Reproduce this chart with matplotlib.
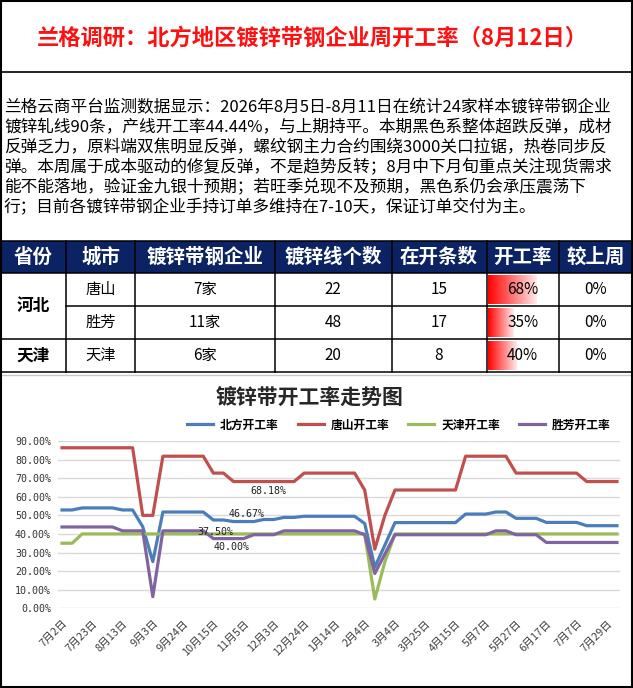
import matplotlib
matplotlib.use('Agg')
import matplotlib.pyplot as plt
import numpy as np
from matplotlib.lines import Line2D
from matplotlib.patches import Rectangle

plt.rcParams['font.family'] = ['Noto Sans CJK SC', 'DejaVu Sans']

# ---------------- data ----------------
title = '兰格调研：北方地区镀锌带钢企业周开工率（8月12日）'
paragraph = [
    '兰格云商平台监测数据显示：2026年8月5日-8月11日在统计24家样本镀锌带钢企业',
    '镀锌轧线90条，产线开工率44.44%，与上期持平。本期黑色系整体超跌反弹，成材',
    '反弹乏力，原料端双焦明显反弹，螺纹钢主力合约围绕3000关口拉锯，热卷同步反',
    '弹。本周属于成本驱动的修复反弹，不是趋势反转；8月中下月旬重点关注现货需求',
    '能不能落地，验证金九银十预期；若旺季兑现不及预期，黑色系仍会承压震荡下',
    '行；目前各镀锌带钢企业手持订单多维持在7-10天，保证订单交付为主。',
]

headers = ['省份', '城市', '镀锌带钢企业', '镀锌线个数', '在开条数', '开工率', '较上周']
provinces = ['河北', '天津']
cities = ['唐山', '胜芳', '天津']
enterprises = [7, 11, 6]
line_counts = [22, 48, 20]
open_counts = [15, 17, 8]
wow_change = ['0%', '0%', '0%']

chart_title = '镀锌带开工率走势图'
series_names = ['北方开工率', '唐山开工率', '天津开工率', '胜芳开工率']

dates = ['7月2日', '7月9日', '7月16日', '7月23日', '7月30日', '8月6日', '8月13日', '8月20日',
         '8月27日', '9月3日', '9月10日', '9月17日', '9月24日', '10月1日', '10月8日', '10月15日',
         '10月22日', '10月29日', '11月5日', '11月12日', '11月26日', '12月3日', '12月10日', '12月17日',
         '12月24日', '12月31日', '1月7日', '1月14日', '1月21日', '1月28日', '2月4日', '2月18日',
         '2月25日', '3月4日', '3月11日', '3月18日', '3月25日', '4月1日', '4月8日', '4月15日',
         '4月22日', '4月29日', '5月7日', '5月13日', '5月20日', '5月27日', '6月3日', '6月10日',
         '6月17日', '6月24日', '7月1日', '7月7日', '7月15日', '7月22日', '7月29日', '8月5日']

north = [52.9, 52.9, 54.0, 54.0, 54.0, 54.0, 52.9, 52.9, 43.9, 25.1,
         51.8, 51.8, 51.8, 51.8, 51.8, 47.5, 47.5, 46.67, 46.67, 46.67,
         47.78, 47.78, 48.89, 48.89, 49.5, 49.5, 49.5, 49.5, 49.5, 49.5,
         45.6, 22.2, 34.0, 46.1, 46.1, 46.1, 46.1, 46.1, 46.1, 46.1,
         50.7, 50.7, 50.7, 51.8, 51.8, 48.4, 48.4, 48.4, 46.2, 46.2,
         46.2, 46.2, 44.44, 44.44, 44.44, 44.44]
tangshan = [86.36] * 8 + [50.0, 50.0] + [81.82] * 5 + [72.73] * 2 + [68.18] * 7 + \
           [72.73] * 6 + [63.64, 31.82, 50.0] + [63.64] * 7 + [81.82] * 5 + [72.73] * 7 + [68.18] * 4
tianjin = [35.0, 35.0] + [40.0] * 29 + [5.0, 25.0] + [40.0] * 23
shengfang = [43.75] * 6 + [41.67] * 3 + [6.25] + [41.67] * 5 + [37.5] * 4 + [39.58] * 3 + \
            [41.67] * 8 + [39.58, 18.75, 29.2] + [39.58] * 10 + [41.67] * 2 + [39.58] * 3 + [35.42] * 8

series = [north, tangshan, tianjin, shengfang]
colors = ['#4A7EBB', '#C0504D', '#9BBB59', '#8064A2']
label_index = 18
label_offsets = [(3, 8), (25, -9), (-12, -13), (-28, 7)]

# ---------------- figure ----------------
W, H = 633, 688
fig = plt.figure(figsize=(W / 100, H / 100), dpi=100)
ax0 = fig.add_axes([0, 0, 1, 1])
ax0.set_xlim(0, W)
ax0.set_ylim(H, 0)
ax0.axis('off')

# outer border and section lines
ax0.add_patch(Rectangle((0.8, 0.8), W - 1.8, H - 1.8, fill=False, ec='black', lw=1.5, zorder=5))
ax0.plot([0, W], [72, 72], color='black', lw=1.2)

# title
ax0.text(312, 38, title, color='#FF1010', fontsize=16, fontweight='bold', ha='center', va='center')

# paragraph
for i, line in enumerate(paragraph):
    ax0.text(4, 108 + 20 * i, line, fontsize=12.0, ha='left', va='center', color='black')

# table
col_edges = [1, 65.7, 135.3, 274.5, 391.6, 486.5, 559, 632]
row_edges = [240.7, 273.3, 306.0, 339.0, 371.7]
ax0.add_patch(Rectangle((col_edges[0], row_edges[0]), col_edges[-1] - col_edges[0],
                        row_edges[1] - row_edges[0], fc='#0B2263', ec='none'))
for j, h in enumerate(headers):
    cx = (col_edges[j] + col_edges[j + 1]) / 2
    ax0.text(cx, (row_edges[0] + row_edges[1]) / 2, h, color='white', fontsize=14,
             fontweight='bold', ha='center', va='center')

# grid lines of table
for y in [row_edges[0], row_edges[1], row_edges[3], row_edges[4]]:
    ax0.plot([0, W], [y, y], color='black', lw=1.1)
ax0.plot([col_edges[1], W], [row_edges[2], row_edges[2]], color='black', lw=1.1)
for x in col_edges[1:-1]:
    ax0.plot([x, x], [row_edges[0], row_edges[4]], color='black', lw=1.1)
ax0.plot([0, W], [374.5, 374.5], color='#C8C8C8', lw=1.0)

# province cells
ax0.text((col_edges[0] + col_edges[1]) / 2, (row_edges[1] + row_edges[3]) / 2, provinces[0],
         fontsize=12, fontweight='bold', ha='center', va='center')
ax0.text((col_edges[0] + col_edges[1]) / 2, (row_edges[3] + row_edges[4]) / 2, provinces[1],
         fontsize=12, fontweight='bold', ha='center', va='center')

grad = np.linspace(0, 1, 256)
grad_img = np.zeros((1, 256, 3))
grad_img[0, :, 0] = 1.0
grad_img[0, :, 1] = 0.92 * grad
grad_img[0, :, 2] = 0.92 * grad

for i in range(3):
    top, bot = row_edges[i + 1], row_edges[i + 2]
    cy = (top + bot) / 2
    rate = open_counts[i] / line_counts[i] * 100
    vals = [cities[i], f'{enterprises[i]}家', f'{line_counts[i]}', f'{open_counts[i]}',
            f'{rate:.0f}%', wow_change[i]]
    # data bar
    bx0 = col_edges[5] + 1.5
    bw = rate / 100 * 71
    ax0.imshow(grad_img, extent=(bx0, bx0 + bw, bot - 2, top + 2), aspect='auto',
               interpolation='bilinear', zorder=2)
    for j, v in enumerate(vals):
        cx = (col_edges[j + 1] + col_edges[j + 2]) / 2
        ax0.text(cx, cy, v, fontsize=11, ha='center', va='center', color='black', zorder=3)
ax0.set_xlim(0, W)
ax0.set_ylim(H, 0)

# ---------------- line chart ----------------
x0_px, x1_px = 58, 620
y_top_px, y_bot_px = 441, 608.3
step_px = 10.09
first_px = 62
axc = fig.add_axes([x0_px / W, 1 - y_bot_px / H, (x1_px - x0_px) / W, (y_bot_px - y_top_px) / H])
axc.set_facecolor('none')
xs = np.arange(len(dates))
for s, c in zip(series, colors):
    axc.plot(xs, s, color=c, lw=2.3, solid_joinstyle='round', clip_on=False, zorder=3)

axc.set_xlim((x0_px - first_px) / step_px, (x1_px - first_px) / step_px)
axc.set_ylim(0, 90)
yt = np.arange(0, 91, 10)
axc.set_yticks(yt)
axc.set_yticklabels([f'{v:.2f}%' for v in yt], family='DejaVu Sans Mono', fontsize=7.2, color='#333333')
axc.yaxis.grid(True, color='#D9D9D9', lw=1.0)
axc.set_axisbelow(True)
for sp in axc.spines.values():
    sp.set_visible(False)
tick_idx = list(range(0, len(dates), 3))
axc.set_xticks(tick_idx)
axc.set_xticklabels([dates[i] for i in tick_idx], rotation=45, ha='right', va='top',
                    rotation_mode='anchor', fontsize=7.8, color='#404040')
axc.tick_params(axis='both', length=0)
axc.tick_params(axis='y', pad=5)
axc.tick_params(axis='x', pad=7)

for s, off in zip(series, label_offsets):
    v = s[label_index]
    axc.annotate(f'{v:.2f}%', (label_index, v), xytext=off, textcoords='offset pixels',
                 ha='center', va='center', family='DejaVu Sans Mono', fontsize=7.2,
                 color='#222222', zorder=4)

fig.text(310 / W, 1 - 397 / H, chart_title, ha='center', va='center', fontsize=15,
         fontweight='bold', color='#262626')
handles = [Line2D([0], [0], color=c, lw=2.3) for c in colors]
fig.legend(handles, series_names, loc='center', bbox_to_anchor=(399 / W, 1 - 425 / H), ncol=4,
           frameon=False, prop={'size': 8.5, 'weight': 'bold'}, handlelength=2.2,
           handletextpad=0.6, columnspacing=1.6)

fig.savefig('out.png', dpi=100)
